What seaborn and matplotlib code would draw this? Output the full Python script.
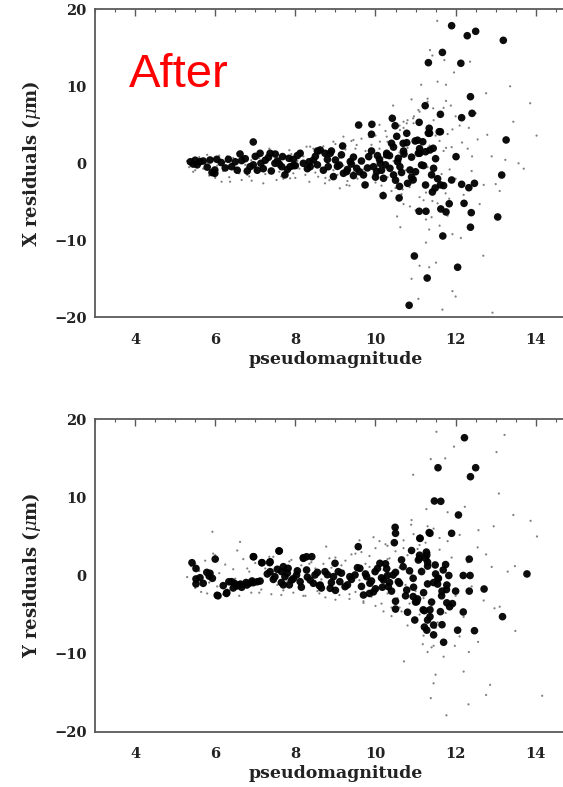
import matplotlib
matplotlib.use("Agg")
import matplotlib.pyplot as plt
from matplotlib.ticker import MultipleLocator
import seaborn as sns
import pandas as pd

# ---------------- data ----------------
top_big_x = [11.90, 12.29, 12.50, 13.19, 11.67, 11.32, 12.13, 12.37, 11.24, 11.62,
             12.15, 12.41, 10.42, 10.49, 11.09, 11.34, 11.35, 11.59, 13.26, 10.53,
             10.78, 10.99, 11.18, 11.44, 12.01, 11.07, 10.71, 10.28, 13.15, 11.90,
             12.15, 12.33, 12.47, 11.70, 11.25, 11.42, 10.19, 10.59, 11.84, 12.21,
             11.63, 11.09, 11.26, 11.76, 12.39, 13.05, 12.37, 11.68, 10.97, 12.05,
             11.29, 10.84, 6.95, 9.58, 9.91, 9.90, 9.18,
             5.62, 5.87, 6.04, 5.99, 5.99, 6.33, 6.41, 6.62, 6.66, 6.87, 7.12, 7.14,
             7.33, 7.37, 7.49, 7.66, 7.68, 7.74, 7.84, 7.87, 8.12, 8.20, 8.37, 8.45,
             8.62, 8.74, 8.87, 8.82, 8.95, 9.00, 9.10, 9.28, 9.37, 9.53, 9.70, 9.74,
             9.83, 9.95, 10.03, 10.12, 10.20, 10.28, 10.36, 10.45, 10.57, 10.61, 10.69,
             10.78, 10.86, 10.94, 11.10, 11.15, 11.32, 11.36, 11.45, 11.62, 11.49,
             11.62, 5.38, 5.50, 5.55, 5.92, 7.05, 7.95, 8.55, 9.45, 10.05, 10.40]
top_big_y = [17.87, 16.57, 17.14, 15.97, 14.40, 13.07, 12.99, 8.65, 7.48, 6.36,
             5.92, 6.49, 5.84, 4.88, 5.32, 4.55, 3.90, 4.10, 3.03, 3.50,
             2.68, 2.90, 2.80, 1.95, 0.86, 1.30, 1.20, 1.08, -1.52, -2.17,
             -2.73, -3.17, -2.60, -2.90, -2.82, -3.73, -4.20, -4.50, -5.25, -5.20,
             -5.93, -6.23, -6.23, -6.32, -6.41, -6.97, -8.30, -9.44, -12.04, -13.50,
             -14.90, -18.44, 2.77, 4.97, 5.06, 3.77, 2.25,
             0.21, 0.43, 0.52, -0.87, -1.30, 0.52, -0.44, 1.21, 0.35, -0.44, 1.30, 0.00,
             0.78, 1.30, 0.00, -0.44, 0.87, -1.50, 0.65, -0.44, 1.30, 0.00, -0.44, 0.43,
             1.73, 1.30, 1.30, -0.44, -1.73, 0.43, -0.22, -1.08, 0.22, -0.65, -1.51, -2.81,
             0.87, -0.44, -1.08, 0.00, -1.95, 1.30, -0.65, -1.51, 0.65, -0.44, 2.59,
             3.90, -0.87, -2.16, 1.30, -0.22, 3.90, 1.73, -0.65, 4.10, -3.20,
             -2.80, 0.20, 0.40, -0.20, -1.20, -0.90, -0.30, 1.60, -1.60, 1.00, 2.60]
top_band_big_x = [5.45, 5.70, 5.80, 6.15, 6.25, 6.50, 6.55, 6.75, 6.95, 7.00,
                  7.20, 7.25, 7.40, 7.55, 7.60, 7.80, 7.95, 8.00, 8.05, 8.30,
                  8.35, 8.50, 8.55, 8.70, 8.80, 9.05, 9.15, 9.20, 9.40, 9.45,
                  9.60, 9.65, 9.80, 9.90, 10.00, 10.10, 10.15, 10.25, 10.35, 10.50,
                  10.55, 10.65, 10.70, 10.80, 10.90, 11.00, 11.05, 11.20, 11.25, 11.40,
                  11.50, 11.55, 10.45, 10.60, 10.90, 11.10, 8.90, 9.30, 7.50, 6.80]
top_band_big_y = [-0.1, 0.3, -0.5, 0.1, -0.6, 0.2, -0.9, 0.6, -0.2, 0.9,
                  -0.7, 0.4, -1.0, 0.3, -0.1, -0.8, 0.5, -0.3, 1.0, -0.7,
                  0.2, 0.9, -0.2, -0.9, 0.5, -0.4, 1.1, -1.3, -0.1, 0.8,
                  -1.1, 0.3, -0.6, 1.6, -1.8, 0.5, -0.9, -0.2, 1.0, -2.2,
                  0.2, -1.2, 1.6, -2.6, 0.8, -1.1, 3.0, -0.3, 1.5, -1.5,
                  0.6, -2.0, 2.1, -3.0, -1.8, 1.9, 1.6, -0.8, 1.2, -1.0]

top_small_x = [11.54, 11.36, 11.42, 11.72, 12.36, 11.96, 11.55, 11.76, 11.14, 13.36,
               12.76, 13.86, 10.90, 11.30, 11.76, 11.88, 10.44, 10.96, 10.70, 12.00,
               12.50, 13.44, 14.02, 11.92, 12.33, 12.79, 12.16, 11.76, 12.41, 13.24,
               13.57, 13.70, 13.00, 12.60, 11.84, 11.26, 11.42, 10.68, 10.86, 10.54,
               10.62, 11.26, 11.34, 11.92, 12.13, 11.26, 12.69, 11.51, 11.10, 11.34,
               10.90, 11.92, 12.00, 11.07, 11.67, 12.92,
               6.16, 6.37, 6.66, 6.91, 7.20, 7.53, 7.87, 8.57, 8.74, 9.11, 9.28,
               8.28, 8.37, 8.95, 9.45, 9.20, 9.53, 10.11, 10.28, 10.61, 10.78, 10.94,
               11.07, 11.44,
               5.30, 5.35, 5.45, 5.60, 5.70, 5.75, 5.85, 5.95, 6.05, 6.10, 6.20, 6.25,
               6.35, 6.45, 6.50, 6.60, 6.70, 6.75, 6.85, 6.90, 7.00, 7.05, 7.15, 7.25,
               7.30, 7.40, 7.45, 7.55, 7.60, 7.70, 7.75, 7.80, 7.90, 7.95, 8.05, 8.10,
               8.15, 8.25, 8.30, 8.40, 8.45, 8.50, 8.55, 8.65, 8.70, 8.75, 8.80, 8.90,
               8.95, 9.00, 9.05, 9.10, 9.20, 9.25, 9.30, 9.35, 9.40, 9.45, 9.50, 9.55,
               9.60, 9.65, 9.70, 9.75, 9.80, 9.85, 9.90, 9.95, 10.00, 10.05, 10.10,
               10.15, 10.20, 10.25, 10.30, 10.35, 10.40, 10.45, 10.50, 10.55, 10.60,
               10.65, 10.70, 10.75, 10.80, 10.85, 10.90, 10.95, 11.00, 11.05, 11.10,
               11.15, 11.20, 11.25, 11.30, 11.35, 11.40, 11.45, 11.50, 11.55, 11.60,
               11.65, 11.70, 11.75, 11.80, 11.85, 11.90, 12.00, 12.10, 12.20, 12.30,
               12.40, 12.55, 12.70, 12.90, 13.10,
               5.50, 5.80, 6.00, 6.30, 6.55, 6.80, 7.10, 7.35, 7.65, 7.85,
               8.00, 8.20, 8.35, 8.60, 8.85, 9.00, 9.15, 9.35, 9.50, 9.70,
               9.85, 10.00, 10.10, 10.20, 10.30, 10.40, 10.50, 10.60, 10.70, 10.80,
               10.90, 11.00, 11.10, 11.20, 11.30, 11.40, 11.50, 11.60, 11.70, 11.80]
top_small_y = [18.5, 14.7, 14.0, 13.4, 13.2, 11.8, 10.6, 10.2, 10.2, 10.0,
               9.1, 7.8, 8.3, 8.0, 8.1, 7.5, 7.5, 6.1, 5.4, 6.1,
               6.5, 5.4, 3.6, 4.4, 4.6, 3.7, 2.7, 2.0, 0.9, 0.45,
               0.0, -0.7, -2.7, -5.3, -4.6, -3.8, -4.9, -3.4, -5.6, -6.9,
               -8.3, -7.3, -8.6, -9.2, -9.7, -10.3, -12.0, -12.9, -13.3, -13.5,
               -15.0, -16.6, -17.3, -17.6, -19.0, -19.4,
               -2.39, -2.39, -2.17, -2.26, -2.60, -2.17, -1.95, -1.74, -2.60, -3.25, -2.82,
               2.16, 2.16, 2.81, 3.03, 3.46, 2.38, 2.81, 3.46, 4.33, 5.19, 5.84,
               6.92, 7.14,
               0.3, -0.5, -1.1, 0.8, -0.7, 0.1, -1.6, 0.6, -0.3, 1.0, -1.0, 0.2,
               -1.8, 0.7, -0.6, -1.3, 0.9, -0.2, -1.7, 0.4, -0.9, 1.1, -0.4, -1.4,
               0.6, -0.8, 1.5, 0.2, -1.1, -2.0, 0.9, -0.5, 1.2, -1.3, 0.3, -0.7,
               1.6, -1.5, 0.5, -0.2, 1.9, -1.2, 0.8, -0.6, 2.2, -1.9, 0.2, 1.4,
               -0.9, 2.5, -1.5, 0.7, -0.3, 1.8, -2.3, 0.4, 2.9, -1.1, 1.0, -2.0,
               0.1, 3.2, -0.8, 1.6, -2.6, 0.5, 2.4, -1.4, 3.6, -0.4, 1.9,
               -2.9, 0.8, 4.2, -1.8, 2.6, -3.6, 0.3, 3.3, -2.4, 1.4,
               -4.0, 4.6, -0.9, 2.0, -3.1, 0.6, 5.2, -1.9, 3.0, -4.4,
               1.1, -2.6, 4.0, -0.5, 2.3, -3.4, 5.6, 0.4, -5.2, 2.9,
               -1.4, 1.6, -3.9, 3.8, -0.8, 2.1, -2.0, 4.9, -4.1, 1.9,
               -1.0, 3.1, -2.8, 0.9, -3.6,
               -0.9, 1.1, -1.9, 0.9, 1.3, -1.5, 0.7, 1.9, -1.7, 1.7,
               -1.9, 0.9, -2.4, 1.2, -2.2, -0.4, 2.0, -2.9, 1.9, -3.0,
               3.4, -2.5, 5.0, -3.8, 2.8, 6.2, -3.2, 4.9, -5.3, 5.6,
               -2.6, -6.1, 6.7, -4.8, 8.4, -7.0, 3.6, -8.1, 7.2, -6.8]

bot_big_x = [12.22, 11.56, 12.50, 12.37, 11.47, 11.63, 12.07, 11.90, 10.49, 10.50,
             10.47, 11.11, 11.34, 9.57, 7.59, 8.20, 8.28, 6.96, 7.17, 7.36,
             6.00, 5.42, 5.52, 5.52, 5.52, 5.79, 5.85, 6.05, 6.29, 6.34,
             6.48, 6.63, 6.77, 6.92, 12.34, 12.36, 12.19, 12.71, 12.34, 12.00,
             11.92, 11.78, 12.19, 11.77, 11.66, 11.83, 11.56, 13.17, 13.78, 12.47,
             12.05, 11.70, 11.66, 11.45, 11.28, 11.22, 11.30, 11.22, 11.36, 11.00,
             10.98, 10.80, 10.50, 10.50, 9.95, 9.70, 10.17, 10.30, 10.28, 11.10,
             11.10, 11.27, 11.30, 11.45, 11.30,
             5.62, 5.87, 5.93, 6.07, 6.28, 6.41, 6.54, 6.66, 6.79, 6.95, 7.12,
             6.95, 7.16, 7.37, 7.60, 7.37, 7.49, 7.66, 7.74, 7.82, 7.91, 8.03, 8.12,
             7.70, 8.20, 8.41, 8.28, 8.37, 8.49, 8.62, 8.74, 8.87, 8.95, 9.07, 9.11,
             9.24, 9.36, 9.49, 8.99, 9.61, 9.78, 9.86, 9.99, 10.11, 10.20, 10.32,
             10.44, 10.57, 10.69, 10.78, 10.94, 11.07, 11.11, 11.28, 11.36, 11.49,
             11.57, 11.69, 11.78, 10.94, 11.03, 11.19, 11.36, 11.45, 11.62]
bot_big_y = [17.64, 13.80, 13.80, 12.65, 9.54, 9.50, 7.75, 5.40, 6.17, 5.40,
             4.20, 4.76, 5.50, 3.69, 3.14, 2.28, 2.40, 2.40, 1.64, 1.64,
             2.10, 1.64, 0.90, -0.44, -1.08, 0.40, -0.08, -2.53, -2.20, -0.80,
             -1.00, -1.10, -0.90, -0.70, 2.10, 0.00, 0.00, -1.73, -2.00, -2.00,
             -3.60, -3.50, -4.67, -1.80, -2.00, 0.00, -0.40, -5.27, 0.20, -7.07,
             -7.00, -8.55, -6.30, -7.60, -7.00, -6.60, -5.70, -4.50, -4.40, -3.40,
             -5.70, -4.70, -4.30, -3.30, -2.10, -2.50, -1.50, 0.00, 0.87, 2.20,
             2.60, 3.00, 1.70, -0.90, -1.08,
             -0.28, 0.28, -0.36, -2.60, -2.30, -0.79, -1.34, -1.51, -1.22, -0.92, -0.71,
             2.41, 1.64, 1.77, 3.14, 0.49, -0.15, 0.49, -0.15, 0.92, -0.58, 0.07, -0.79,
             1.13, 2.20, 2.41, 0.71, -0.58, 0.07, -1.22, 0.49, -1.64, -0.15, 0.49, -0.79,
             -1.43, -0.15, 0.07, 1.56, 0.92, -0.15, -1.00, 0.49, 1.56, -0.58, -1.43,
             0.07, -0.79, 1.13, -1.86, -0.36, 1.98, 4.76, 2.62, 5.40, 1.35,
             -0.36, 0.71, -1.22, -2.70, -3.35, -4.40, -5.27, -6.34, -4.63]
bot_band_big_x = [5.70, 6.20, 6.45, 6.60, 6.85, 7.05, 7.30, 7.45, 7.55, 7.65,
                  7.80, 7.85, 7.95, 8.05, 8.15, 8.30, 8.45, 8.55, 8.65, 8.80,
                  8.90, 9.00, 9.15, 9.30, 9.40, 9.55, 9.65, 9.75, 9.90, 10.00,
                  10.05, 10.15, 10.25, 10.40, 10.50, 10.60, 10.65, 10.75, 10.85, 10.95,
                  11.05, 11.15, 11.20, 11.30, 11.40, 11.50, 11.55, 11.65, 11.75, 11.85,
                  10.35, 10.90, 11.25, 9.85, 8.60, 7.70]
bot_band_big_y = [-1.0, -1.3, -1.6, -1.2, -1.0, -0.8, 0.2, -0.5, 0.8, -0.9,
                  0.3, -1.2, -0.4, 0.6, -1.5, -0.2, -1.0, 0.4, -1.6, 0.1,
                  -0.9, -1.9, 0.3, -1.2, -0.5, 1.0, -1.4, 0.2, -0.7, -1.7,
                  0.9, -0.3, 1.5, -2.0, 0.4, -1.0, 2.0, -2.6, 0.6, -1.5,
                  -3.0, 0.5, -2.2, 1.2, -3.4, 0.2, -1.1, -2.6, 1.4, -4.0,
                  -0.9, 3.2, 2.2, -2.3, -1.3, -1.2]

bot_small_x = [11.52, 11.96, 13.22, 13.02, 11.74, 11.38, 10.94, 13.08, 12.23, 11.27,
               13.44, 13.87, 12.95, 14.03, 12.57, 10.89, 9.95, 9.60, 10.30, 5.93,
               6.62, 8.77, 12.76, 13.30, 13.48, 12.97, 13.49, 12.56, 12.33, 11.98,
               12.10, 11.30, 11.45, 11.18, 10.71, 11.50, 11.45, 12.20, 12.86, 11.38,
               12.76, 14.16, 12.32, 11.77,
               5.30, 5.40, 5.50, 5.60, 5.65, 5.75, 5.85, 5.95, 6.05, 6.10, 6.20, 6.25,
               6.35, 6.45, 6.50, 6.60, 6.70, 6.75, 6.85, 6.90, 7.00, 7.05, 7.15, 7.25,
               7.30, 7.40, 7.45, 7.55, 7.60, 7.70, 7.75, 7.80, 7.90, 7.95, 8.05, 8.10,
               8.15, 8.25, 8.30, 8.40, 8.45, 8.50, 8.55, 8.65, 8.70, 8.75, 8.80, 8.90,
               8.95, 9.00, 9.05, 9.10, 9.20, 9.25, 9.30, 9.35, 9.40, 9.45, 9.50, 9.55,
               9.60, 9.65, 9.70, 9.75, 9.80, 9.85, 9.90, 9.95, 10.00, 10.05, 10.10,
               10.15, 10.20, 10.25, 10.30, 10.35, 10.40, 10.45, 10.50, 10.55, 10.60,
               10.65, 10.70, 10.75, 10.80, 10.85, 10.90, 10.95, 11.00, 11.05, 11.10,
               11.15, 11.20, 11.25, 11.30, 11.35, 11.40, 11.45, 11.50, 11.55, 11.60,
               11.65, 11.70, 11.75, 11.80, 11.85, 11.90, 12.00, 12.10, 12.20, 12.30,
               12.40, 12.55, 12.70, 12.90, 13.10,
               5.50, 5.80, 6.00, 6.30, 6.55, 6.80, 7.10, 7.35, 7.65, 7.85,
               8.00, 8.20, 8.35, 8.60, 8.85, 9.00, 9.15, 9.35, 9.50, 9.70,
               9.85, 10.00, 10.10, 10.20, 10.30, 10.40, 10.50, 10.60, 10.70, 10.80,
               10.90, 11.00, 11.10, 11.20, 11.30, 11.40, 11.50, 11.60, 11.70, 11.80]
bot_small_y = [18.4, 16.5, 18.0, 15.8, 15.0, 14.9, 12.9, 10.5, 8.8, 8.5,
               7.75, 7.0, 6.3, 5.0, 5.8, 6.5, 4.9, 4.5, 3.8, 5.6,
               4.3, 3.7, 2.7, 0.5, 1.2, -4.2, -7.1, -8.5, -9.8, -9.0,
               -7.8, -9.8, -9.0, -8.8, -11.0, -12.7, -13.8, -12.3, -14.0, -15.7,
               -15.3, -15.4, -16.5, -17.9,
               -0.2, 1.2, -1.6, 0.6, -2.1, 1.9, -0.9, 2.8, -1.4, 0.3, -2.4, 1.4,
               -1.9, 0.8, -0.4, -2.6, 2.1, -1.0, 0.5, -2.2, 1.6, -0.6, -1.8, 0.9,
               -0.1, -2.4, 2.4, -1.2, 0.3, -1.9, 1.1, -0.7, 2.0, -2.2, 0.4, -1.5,
               1.3, -2.6, -0.3, 1.7, -1.1, 0.9, -2.0, -0.5, 1.5, -2.8, 0.2, 1.0,
               -1.7, 2.3, -0.8, -2.5, 0.6, 1.9, -1.3, -3.0, 2.7, 0.0, -2.1, 1.2,
               -0.6, 3.0, -3.3, 1.5, -1.0, 2.5, -2.7, 0.4, 3.5, -1.6, 1.8,
               -3.6, 0.7, 4.0, -2.3, 2.2, -4.1, -0.3, 3.1, -2.9, 1.0,
               -4.6, 4.5, -1.2, 2.6, -3.6, 0.2, 5.3, -2.0, 3.4, -5.0,
               0.9, -2.9, 4.2, -0.8, 2.9, -3.9, 6.0, 0.1, -6.0, 3.3,
               -1.8, 1.6, -4.8, 4.4, -1.1, 2.3, -2.6, 5.2, -5.3, 1.7,
               -1.4, 3.6, -3.2, 1.1, -4.0,
               1.5, -2.3, 2.6, -1.8, 3.2, 0.9, -2.2, 2.4, -2.5, 1.8,
               0.8, -2.6, 1.5, -2.3, 2.2, -3.1, 1.3, -2.4, 2.8, -3.5,
               1.1, -3.9, 4.4, -4.6, 2.1, -5.2, 5.9, -4.1, 3.5, -6.4,
               7.1, -5.5, 3.9, -7.7, 6.3, -9.2, -6.7, 4.8, -10.4, 8.1]

x_ticks = [4, 6, 8, 10, 12, 14]
y_ticks = [-20, -10, 0, 10, 20]
y_tick_labels = ["\u221220", "\u221210", "0", "10", "20"]
x_label = "pseudomagnitude"
y_labels = ["X residuals ($\\mu$m)", "Y residuals ($\\mu$m)"]
title_text = "After"

# ---------------- figure ----------------
sns.set_style("white")
plt.rcParams["font.family"] = ["DejaVu Serif", "DejaVu Sans"]
plt.rcParams["mathtext.fontset"] = "dejavuserif"

W, H = 563, 787
fig = plt.figure(figsize=(W / 100, H / 100), dpi=100)


def px_axes(left, top, right, bottom):
    return fig.add_axes([left / W, 1 - bottom / H, (right - left) / W, (bottom - top) / H])


ax_top = px_axes(95, 9.3, 95 + 12 * 40.07, 317.3)
ax_bot = px_axes(95, 419.3, 95 + 12 * 40.07, 731.7)

panels = [
    (ax_top, top_big_x + top_band_big_x, top_big_y + top_band_big_y,
     top_small_x, top_small_y, y_labels[0]),
    (ax_bot, bot_big_x + bot_band_big_x, bot_big_y + bot_band_big_y,
     bot_small_x, bot_small_y, y_labels[1]),
]

spine_col = "#5a5a5a"
for ax, bx, by, sx, sy, ylab in panels:
    df_small = pd.DataFrame({"mag": sx, "res": sy})
    df_big = pd.DataFrame({"mag": bx, "res": by})
    sns.scatterplot(data=df_small, x="mag", y="res", ax=ax, s=2.5,
                    color="#808080", edgecolor="none", linewidth=0)
    sns.scatterplot(data=df_big, x="mag", y="res", ax=ax, s=30,
                    color="black", edgecolor="none", linewidth=0, alpha=0.95)
    ax.set_xlim(3, 15)
    ax.set_ylim(-20, 20)
    ax.set_xticks(x_ticks)
    ax.set_yticks(y_ticks)
    ax.set_yticklabels(y_tick_labels)
    ax.xaxis.set_minor_locator(MultipleLocator(0.5))
    ax.yaxis.set_minor_locator(MultipleLocator(2))
    ax.tick_params(axis="both", which="major", direction="in", length=5, width=1.0,
                   color=spine_col, top=True, right=True, labelsize=10.5,
                   labelcolor="#222222")
    ax.tick_params(axis="both", which="minor", direction="in", length=2.2, width=0.8,
                   color=spine_col, top=True, right=True)
    ax.tick_params(axis="x", which="major", pad=11)
    ax.tick_params(axis="y", which="major", pad=6)
    for lab in ax.get_xticklabels() + ax.get_yticklabels():
        lab.set_fontweight("bold")
    for sp in ax.spines.values():
        sp.set_color(spine_col)
        sp.set_linewidth(1.3)
    ax.set_xlabel(x_label, fontsize=12.5, fontweight="bold", color="#222222", labelpad=3)
    ax.set_ylabel(ylab, fontsize=13, fontweight="bold", color="#222222", labelpad=8)
    ax.set_facecolor("white")

fig.text(129 / W, 1 - 87 / H, title_text, color="#ff0000", fontsize=34,
         family=["Liberation Sans", "DejaVu Sans"], ha="left", va="baseline")

fig.savefig("out.png", dpi=100, facecolor="white")
